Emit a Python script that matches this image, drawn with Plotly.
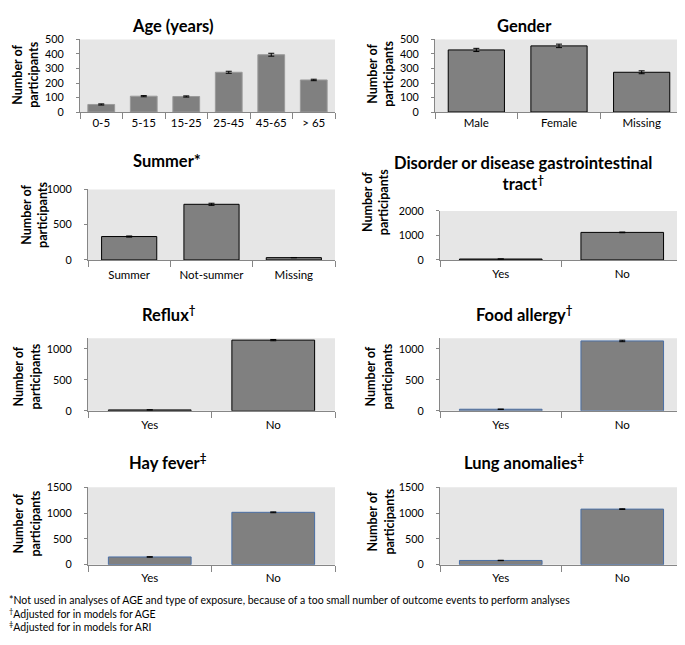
import plotly.graph_objects as go

# ---------------- data ----------------
age_cats = ["0-5", "5-15", "15-25", "25-45", "45-65", "> 65"]
age_vals = [52, 109, 107, 274, 395, 221]
age_err = [4, 4, 4, 7, 10, 5]

gender_cats = ["Male", "Female", "Missing"]
gender_vals = [428, 456, 274]
gender_err = [11, 12, 10]

summer_cats = ["Summer", "Not-summer", "Missing"]
summer_vals = [332, 789, 33]
summer_err = [8, 15, 2]

yn_cats = ["Yes", "No"]
disorder_vals = [38, 1125]
disorder_err = [3, 14]
reflux_vals = [15, 1143]
reflux_err = [2, 10]
food_vals = [26, 1130]
food_err = [3, 12]
hay_vals = [150, 1015]
hay_err = [5, 8]
lung_vals = [82, 1077]
lung_err = [4, 7]

FONT = "Lato, 'Open Sans', sans-serif"
W, H = 685, 645
OFF = 8  # page margin of the browser


def px_x(v):
    return (v - OFF) / W


def px_y(v):
    return 1 - (v - OFF) / H


panels = [
    dict(cats=age_cats, vals=age_vals, err=age_err, xd=(80, 335), yd=(33, 107), yr=500, dt=100,
         line="#9a9a9a", gap=0.37, title="Age (years)", tp=(172, 10), yt=(26, 69), so=0),
    dict(cats=gender_cats, vals=gender_vals, err=gender_err, xd=(435, 683), yd=(33, 107), yr=500, dt=100,
         line="#000000", gap=0.32, title="Gender", tp=(524, 10), yt=(381, 68), so=0),
    dict(cats=summer_cats, vals=summer_vals, err=summer_err, xd=(88, 335), yd=(186, 258), yr=1000, dt=500,
         line="#000000", gap=0.33, title="Summer*", tp=(167, 157), yt=(35, 212), so=4),
    dict(cats=yn_cats, vals=disorder_vals, err=disorder_err, xd=(440, 683), yd=(208, 258), yr=2000, dt=1000,
         line="#000000", gap=0.32, title="Disorder or disease gastrointestinal<br>tract<sup>†</sup>",
         tp=(523, 170), yt=(375, 199), so=3),
    dict(cats=yn_cats, vals=reflux_vals, err=reflux_err, xd=(88, 335), yd=(338, 412), yr=1172, dt=500,
         line="#000000", gap=0.33, title="Reflux<sup>†</sup>", tp=(169, 313), yt=(27, 377), so=3),
    dict(cats=yn_cats, vals=food_vals, err=food_err, xd=(440, 683), yd=(338, 412), yr=1172, dt=500,
         line="#4a6fa5", gap=0.32, title="Food allergy<sup>†</sup>", tp=(524, 313), yt=(379, 377), so=3),
    dict(cats=yn_cats, vals=hay_vals, err=hay_err, xd=(88, 335), yd=(490, 569), yr=1500, dt=500,
         line="#4a6fa5", gap=0.33, title="Hay fever<sup>‡</sup>", tp=(168, 464), yt=(27, 527), so=3),
    dict(cats=yn_cats, vals=lung_vals, err=lung_err, xd=(440, 683), yd=(490, 569), yr=1500, dt=500,
         line="#4a6fa5", gap=0.32, title="Lung anomalies<sup>‡</sup>", tp=(524, 464), yt=(381, 525), so=3),
]

fig = go.Figure()
annotations = []
layout = {}
shapes = []

for i, p in enumerate(panels, start=1):
    xa = "x" if i == 1 else f"x{i}"
    ya = "y" if i == 1 else f"y{i}"
    fig.add_trace(go.Bar(
        x=p["cats"], y=p["vals"], xaxis=xa, yaxis=ya,
        marker=dict(color="#808080", line=dict(color=p["line"], width=1)),
        error_y=dict(type="data", array=p["err"], visible=True, color="#000000",
                     thickness=1, width=3),
        width=1 - p["gap"],
        showlegend=False, hoverinfo="skip",
    ))
    xkey = "xaxis" if i == 1 else f"xaxis{i}"
    ykey = "yaxis" if i == 1 else f"yaxis{i}"
    layout[xkey] = dict(
        domain=[px_x(p["xd"][0]), px_x(p["xd"][1])],
        anchor=ya, type="category",
        showline=True, linecolor="#868686", linewidth=1,
        ticks="outside", tickson="boundaries", ticklen=6, tickcolor="#868686",
        tickfont=dict(family=FONT, size=11.5, color="#000000"),
        ticklabelstandoff=p["so"],
        showgrid=False, zeroline=False, fixedrange=True,
    )
    layout[ykey] = dict(
        domain=[px_y(p["yd"][1]), px_y(p["yd"][0])],
        anchor=xa, range=[0, p["yr"]], dtick=p["dt"], tick0=0,
        showline=True, linecolor="#868686", linewidth=1,
        ticks="outside", ticklen=3, tickcolor="#868686",
        tickfont=dict(family=FONT, size=10.8, color="#000000"),
        ticklabelstandoff=10,
        showgrid=False, zeroline=False, fixedrange=True,
    )
    shapes.append(dict(
        type="rect", xref="paper", yref="paper", layer="below",
        x0=px_x(p["xd"][0]), x1=px_x(p["xd"][1]),
        y0=px_y(p["yd"][1]), y1=px_y(p["yd"][0]),
        fillcolor="#e6e6e6", line=dict(width=0),
    ))
    ty = p["tp"][1]
    if ty < 20:
        tdict = dict(y=1.0, yanchor="top")
    else:
        tdict = dict(y=px_y(ty), yanchor="middle")
    annotations.append(dict(
        text="<b>" + p["title"].replace("<br>", "</b><br><b>") + "</b>",
        x=px_x(p["tp"][0]), xref="paper", yref="paper",
        xanchor="center", showarrow=False, borderpad=0,
        font=dict(family=FONT, size=16.5, color="#000000"), **tdict,
    ))
    annotations.append(dict(
        text="<b>Number of<br>participants</b>",
        x=px_x(p["yt"][0]), y=px_y(p["yt"][1]), xref="paper", yref="paper",
        xanchor="center", yanchor="middle", showarrow=False, textangle=-90,
        font=dict(family=FONT, size=12.5, color="#000000"),
    ))

footnotes = [
    "*Not used in analyses of AGE and type of exposure, because of a too small number of outcome events to perform analyses",
    "<sup>†</sup>Adjusted for in models for AGE",
    "<sup>‡</sup>Adjusted for in models for ARI",
]
for j, t in enumerate(footnotes):
    annotations.append(dict(
        text=t, x=0, y=px_y(605 + 13.5 * j), xref="paper", yref="paper",
        xanchor="left", yanchor="middle", showarrow=False, borderpad=0,
        font=dict(family=FONT, size=10.5, color="#000000"),
    ))

fig.update_layout(
    width=W, height=H,
    margin=dict(l=0, r=0, t=0, b=0),
    paper_bgcolor="#ffffff", plot_bgcolor="rgba(0,0,0,0)",
    annotations=annotations, shapes=shapes,
    font=dict(family=FONT),
    **layout,
)

fig.write_html("out.html")
